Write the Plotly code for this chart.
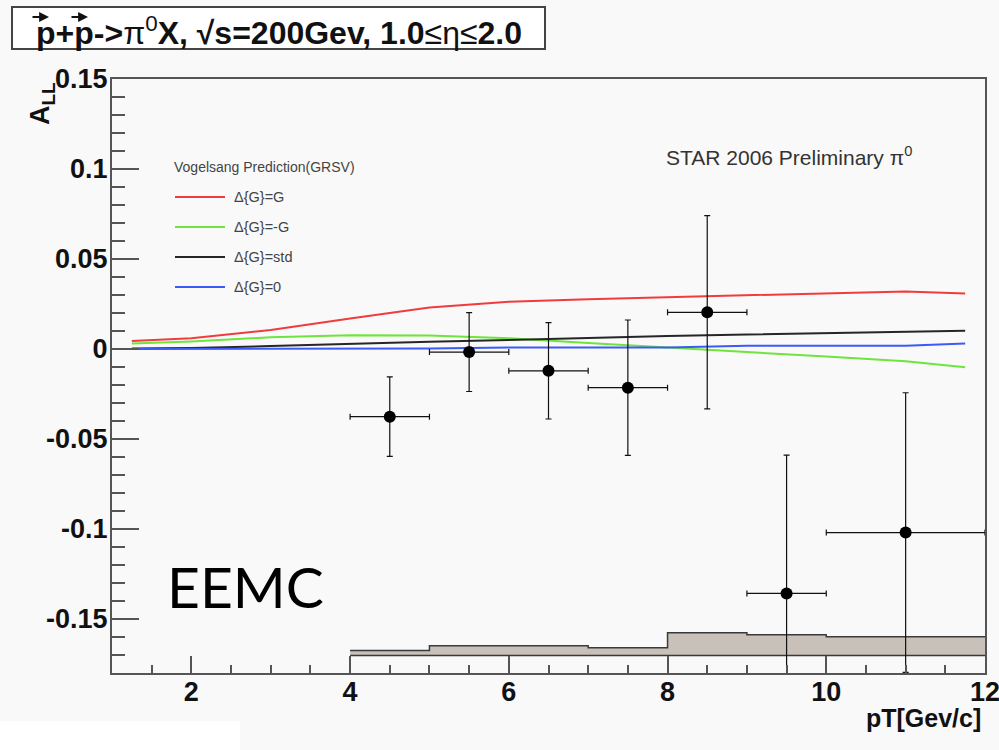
import plotly.graph_objects as go

# ---------------- data ----------------
pt = [4.5, 5.5, 6.5, 7.5, 8.5, 9.5, 11.0]
pt_err = [0.5, 0.5, 0.5, 0.5, 0.5, 0.5, 1.0]
all_vals = [-0.0376, -0.0017, -0.0121, -0.0215, 0.0204, -0.1358, -0.1020]
all_err = [0.0221, 0.0219, 0.0268, 0.0376, 0.0537, 0.0768, 0.0777]

sys_x = [4, 5, 7, 8, 9, 10, 12]
sys_top = [-0.1675, -0.1648, -0.1660, -0.1577, -0.1587, -0.1598, -0.1598]
sys_base = -0.1703

th_x = [1.25, 2, 3, 4, 5, 6, 7, 8, 9, 10, 11, 11.75]
th_gg = [0.0044, 0.0060, 0.0105, 0.0170, 0.0230, 0.0262, 0.0277, 0.0288, 0.0300, 0.0310, 0.0320, 0.0308]
th_mg = [0.0031, 0.0042, 0.0065, 0.0076, 0.0075, 0.0060, 0.0033, 0.0006, -0.0017, -0.0042, -0.0068, -0.0101]
th_std = [0.0003, 0.0005, 0.0016, 0.0030, 0.0040, 0.0050, 0.0062, 0.0072, 0.0081, 0.0088, 0.0095, 0.0101]
th_zero = [0.0, 0.0, 0.0, 0.0, 0.0003, 0.0008, 0.0008, 0.0008, 0.0018, 0.0018, 0.0018, 0.0030]

curve_names = ["Δ{G}=G", "Δ{G}=-G", "Δ{G}=std", "Δ{G}=0"]
curve_colors = ["#f03c3c", "#6ee43c", "#262626", "#3c5af5"]

x_range = [1, 12]
y_range = [-0.18, 0.15]

# ---------------- layout geometry ----------------
W, H = 999, 750
L, R, T, B = 112, 985, 79, 673


def px(xp):
    return (xp - L) / (R - L)


def py(yp):
    return (B - yp) / (B - T)


fig = go.Figure()

# systematic band
fig.add_trace(go.Scatter(x=[sys_x[0], sys_x[-1]], y=[sys_base, sys_base], mode="lines",
                         line=dict(color="#3a3a3a", width=1.5), showlegend=False, hoverinfo="skip"))
fig.add_trace(go.Scatter(x=sys_x, y=sys_top, mode="lines", line_shape="hv",
                         line=dict(color="#3a3a3a", width=1.5), fill="tonexty",
                         fillcolor="#c9c1b9", showlegend=False, hoverinfo="skip"))

# theory curves
for ys, nm, col in zip([th_gg, th_mg, th_std, th_zero], curve_names, curve_colors):
    fig.add_trace(go.Scatter(x=th_x, y=ys, mode="lines", name=nm,
                             line=dict(color=col, width=2), showlegend=False))

# data points
fig.add_trace(go.Scatter(
    x=pt, y=all_vals, mode="markers",
    marker=dict(color="black", size=12),
    error_x=dict(type="data", array=pt_err, color="#111", thickness=1.2, width=3),
    error_y=dict(type="data", array=all_err, color="#111", thickness=1.2, width=3),
    showlegend=False))

shapes = []
annotations = []

# title box
shapes.append(dict(type="rect", xref="paper", yref="paper",
                   x0=px(12), x1=px(545), y0=py(49), y1=py(7),
                   line=dict(color="#444", width=2), fillcolor="white", layer="above"))
annotations.append(dict(
    xref="paper", yref="paper", x=px(279), y=py(31), xanchor="center", yanchor="middle",
    text="<b>p+p-></b>π<sup>0</sup><b>X, √s=200Gev, 1.0</b>≤η≤<b>2.0</b>",
    showarrow=False, font=dict(family="Liberation Sans", size=32, color="#111")))
# vector arrows over the two protons
for xc in [40, 79]:
    annotations.append(dict(xref="paper", yref="paper", x=px(xc + 9), y=py(17),
                            ax=-18, ay=0, text="", showarrow=True, arrowhead=2,
                            arrowsize=0.9, arrowwidth=2.2, arrowcolor="#111"))

# legend (manual)
annotations.append(dict(xref="paper", yref="paper", x=px(172), y=py(167),
                        xanchor="left", yanchor="middle", text="Vogelsang Prediction(GRSV)",
                        showarrow=False, font=dict(family="Liberation Sans", size=14, color="#444")))
for i, (nm, col) in enumerate(zip(curve_names, curve_colors)):
    yy = 197 + 30 * i
    shapes.append(dict(type="line", xref="paper", yref="paper", x0=px(175), x1=px(225),
                       y0=py(yy), y1=py(yy), line=dict(color=col, width=2)))
    annotations.append(dict(xref="paper", yref="paper", x=px(232), y=py(yy),
                            xanchor="left", yanchor="middle", text=nm, showarrow=False,
                            font=dict(family="Liberation Sans", size=14.5, color="#444")))

# STAR label
annotations.append(dict(xref="paper", yref="paper", x=px(664), y=py(156),
                        xanchor="left", yanchor="middle",
                        text="STAR 2006 Preliminary π<sup>0</sup>", showarrow=False,
                        font=dict(family="Liberation Sans", size=21, color="#333")))

# EEMC label
annotations.append(dict(xref="paper", yref="paper", x=px(165), y=py(586),
                        xanchor="left", yanchor="middle", text="EEMC", showarrow=False,
                        font=dict(family="Lato", size=57, color="black")))

# axis titles
annotations.append(dict(xref="paper", yref="paper", x=px(983), y=py(718),
                        xanchor="right", yanchor="middle", text="<b>pT[Gev/c]</b>", showarrow=False,
                        font=dict(family="Liberation Sans", size=25, color="#111")))
annotations.append(dict(xref="paper", yref="paper", x=px(42), y=py(104),
                        xanchor="center", yanchor="middle", textangle=-90,
                        text="<b>A<sub>LL</sub></b>", showarrow=False,
                        font=dict(family="Liberation Sans", size=27, color="#111")))

# white patch bottom-left
shapes.append(dict(type="rect", xref="paper", yref="paper", x0=px(0), x1=px(240),
                   y0=py(750), y1=py(721), line=dict(width=0), fillcolor="white", layer="below"))

axis_common = dict(showgrid=False, zeroline=False, showline=True, mirror=True, automargin=False,
                   linecolor="#555", linewidth=2, ticks="inside", tickcolor="#555",
                   tickwidth=2, ticklabeloverflow="allow",
                   tickfont=dict(family="Liberation Sans", size=27, color="#111", weight="bold"))

fig.update_layout(
    width=W, height=H,
    margin=dict(l=L, r=W - R, t=T, b=H - B),
    paper_bgcolor="#f9f9f9", plot_bgcolor="#f9f9f9",
    showlegend=False,
    shapes=shapes, annotations=annotations,
    xaxis=dict(range=x_range, tickmode="array", tickvals=[2, 4, 6, 8, 10, 12],
               ticktext=["2", "4", "6", "8", "10", "12"], ticklen=17, ticklabelstandoff=-6,
               minor=dict(ticks="inside", dtick=0.5, tick0=1, ticklen=8, tickcolor="#555", tickwidth=1.5),
               **axis_common),
    yaxis=dict(range=y_range, tickmode="array",
               tickvals=[-0.15, -0.1, -0.05, 0, 0.05, 0.1, 0.15],
               ticktext=["-0.15", "-0.1", "-0.05", "0", "0.05", "0.1", "0.15"], ticklen=27,
               ticklabelstandoff=-3,
               minor=dict(ticks="inside", dtick=0.01, tick0=0, ticklen=13, tickcolor="#555", tickwidth=1.5),
               **axis_common),
)

fig.write_html("out.html")
